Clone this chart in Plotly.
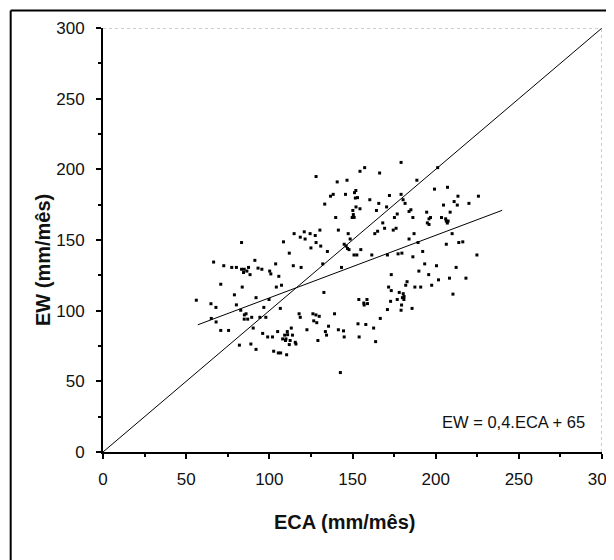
import plotly.graph_objects as go

# ECA vs EW, monthly values (mm/mês)
eca = [56.1, 66.5, 64.9, 67.9, 65.1, 68.0, 70.8, 70.8, 72.6, 75.5, 77.4, 79.0, 80.2, 80.2,
       82.0, 83.3, 83.3, 83.7, 82.8, 84.9, 86.0, 84.9, 87.5, 88.4, 88.9, 89.4, 90.3, 91.3,
       92.0, 92.0, 93.2, 94.3, 95.5, 96.0, 96.7, 97.9, 99.0, 99.8, 100.2, 100.9, 101.9, 102.6,
       103.8, 104.2, 105.0, 105.4, 105.7, 106.6, 106.8, 107.3, 108.5, 109.2, 109.7, 110.4,
       110.8, 112.0, 112.5, 113.2, 113.9, 114.4, 114.9, 115.6, 116.0, 117.9, 118.6, 119.1,
       118.6, 121.0, 121.5, 122.6, 124.5, 125.0, 126.2, 126.7, 127.6, 128.1, 128.1, 128.5,
       129.2, 130.4, 130.9, 132.1, 132.8, 133.3, 133.7, 134.4, 134.9, 135.6, 136.8, 138.4,
       139.2, 139.9, 140.8, 141.5, 141.5, 142.7, 143.4, 144.6, 145.0, 145.8, 146.2, 146.7,
       147.4, 147.9, 148.6, 149.8, 150.2, 150.9, 151.2, 151.7, 152.1, 152.6, 153.3, 153.8,
       154.0, 154.5, 154.5, 155.0, 156.8, 157.3, 158.0, 158.7, 160.4, 161.6, 162.7, 163.4,
       163.9, 164.4, 165.1, 165.8, 166.3, 166.7, 168.2, 169.3, 170.5, 171.0, 171.0, 171.7,
       172.2, 172.9, 173.3, 173.3, 174.5, 175.2, 176.2, 176.9, 176.9, 177.4, 178.1, 179.2,
       179.2, 179.7, 180.0, 179.2, 180.4, 180.9, 181.6, 182.8, 184.0, 184.0, 185.1, 185.8,
       186.3, 186.3, 187.0, 187.5, 188.7, 189.4, 189.9, 191.0, 192.2, 193.4, 194.6, 195.0,
       195.8, 196.9, 197.6, 199.3, 200.5, 201.2, 201.7, 203.5, 204.7, 206.4, 206.4, 207.1,
       207.5, 208.3, 208.7, 209.9, 210.4, 211.1, 212.3, 213.0, 213.4, 213.9, 216.3, 218.2,
       220.0, 224.8, 225.7,
       84.5, 86.5, 85.0, 87.0, 108.0, 110.0, 111.0, 112.0, 151.0, 150.5, 152.0, 153.0,
       179.5, 180.5, 181.0, 182.0, 206.0, 207.0, 128.0, 130.0, 145.0, 147.0, 157.0, 159.0,
       196.0, 196.0]
ew = [107.4, 134.4, 104.9, 102.3, 94.5, 92.0, 118.7, 86.0, 131.8, 86.0, 130.6, 111.2, 130.6, 104.1,
      75.6, 148.2, 129.3, 116.7, 100.3, 129.3, 97.8, 94.0, 130.6, 125.5, 76.4, 95.3, 87.7, 135.6,
      72.6, 109.2, 130.1, 95.3, 129.3, 83.9, 102.3, 95.3, 81.4, 107.9, 128.0, 126.0, 81.4, 71.3,
      133.1, 116.7, 85.2, 70.1, 124.3, 101.6, 70.1, 118.0, 148.7, 82.7, 78.9, 68.8,
      85.2, 140.7, 78.9, 87.7, 82.7, 131.8, 154.5, 77.6, 76.4, 97.8, 95.3, 130.6,
      152.0, 155.8, 150.7, 86.5, 154.5, 144.4, 97.8, 92.8, 153.2, 194.9, 148.2, 91.5,
      78.9, 157.0, 145.7, 133.1, 112.9, 175.4, 85.2, 82.7, 141.9, 89.0, 181.0, 182.3,
      97.8, 165.9, 191.1, 157.0, 86.5, 56.2, 130.6, 85.7, 81.4, 182.3, 145.7, 192.3,
      154.5, 143.2, 150.7, 165.9, 170.9, 139.4, 183.5, 179.7, 173.4, 139.4, 90.7, 107.9,
      81.4, 198.6, 172.1, 143.2, 105.4, 201.2, 90.2, 107.9, 178.5, 139.4, 87.7, 154.5,
      78.1, 170.9, 156.2, 175.9, 197.4, 94.5, 162.1, 158.3, 173.4, 139.4, 100.8, 116.7,
      181.5, 106.6, 125.5, 114.2, 157.0, 165.9, 158.3, 168.4, 107.9, 140.2, 112.9, 204.9,
      182.3, 140.7, 109.2, 100.3, 178.5, 107.9, 175.9, 120.5, 150.7, 170.2, 171.4, 101.6,
      138.1, 165.9, 154.5, 116.7, 192.3, 148.2, 128.0, 116.7, 141.9, 133.1, 169.7, 162.1,
      125.5, 165.9, 118.0, 186.0, 131.8, 201.2, 121.8, 165.9, 174.7, 163.4, 147.0, 187.3,
      163.4, 123.0, 169.7, 154.5, 111.7, 177.2, 130.6, 174.7, 181.0, 148.2, 148.7, 123.0,
      175.9, 139.4, 181.0,
      127.0, 128.0, 97.0, 94.0, 80.0, 80.0, 83.0, 76.0, 166.0, 168.0, 185.0, 180.0,
      104.0, 112.0, 110.0, 118.0, 165.0, 162.0, 97.0, 96.0, 147.0, 144.0, 104.0, 105.0,
      165.0, 161.0]

# 1:1 line and fitted line
one_x = [0, 300]
one_y = [0, 300]
fit_x = [57, 240]
fit_y = [90, 171]

eq_label = "EW = 0,4.ECA + 65"

fig = go.Figure()

fig.add_trace(go.Scatter(x=one_x, y=one_y, mode="lines",
                         line=dict(color="black", width=1), hoverinfo="skip"))
fig.add_trace(go.Scatter(x=fit_x, y=fit_y, mode="lines",
                         line=dict(color="black", width=1), hoverinfo="skip"))
fig.add_trace(go.Scatter(x=eca, y=ew, mode="markers",
                         marker=dict(symbol="square", size=3, color="black",
                                     line=dict(width=0))))

font_family = "Liberation Sans, Arial, sans-serif"
tickfont = dict(family=font_family, size=17, color="#111")
axis_common = dict(
    showgrid=False, zeroline=False,
    showline=True, linecolor="black", linewidth=2,
    ticks="outside", ticklen=5, tickwidth=1.5, tickcolor="black",
    minor=dict(ticks="outside", ticklen=3, tickwidth=1.5, tickcolor="black", dtick=25),
    tickfont=tickfont, dtick=50, range=[0, 300], automargin=False,
    ticklabeloverflow="allow",
)

# page body adds an 8px offset, so the figure is 8px smaller than the window
fig.update_layout(
    width=606, height=552,
    margin=dict(l=95, r=12, t=20, b=108),
    plot_bgcolor="white", paper_bgcolor="white",
    showlegend=False,
    xaxis=dict(axis_common, ticklabelstandoff=6),
    yaxis=dict(axis_common, ticklabelstandoff=8),
)

# dotted grey top/right frame of the plot area
fig.add_shape(type="line", xref="x", yref="y", x0=0, x1=300, y0=300, y1=300,
              line=dict(color="#999", width=1, dash="dot"))
fig.add_shape(type="line", xref="x", yref="y", x0=300, x1=300, y0=0, y1=300,
              line=dict(color="#999", width=1, dash="dot"))

# outer frame (only top and left edges fall inside the picture)
fig.add_shape(type="line", xref="paper", yref="paper", x0=-0.185, x1=1.1, y0=1.041, y1=1.041,
              line=dict(color="black", width=2))
fig.add_shape(type="line", xref="paper", yref="paper", x0=-0.185, x1=-0.185, y0=-0.3, y1=1.041,
              line=dict(color="black", width=2))

fig.add_annotation(x=291, y=21, xref="x", yref="y", text=eq_label, showarrow=False,
                   xanchor="right", yanchor="middle",
                   font=dict(family=font_family, size=16.5, color="#111"))

fig.add_annotation(x=0.485, y=-0.164, xref="paper", yref="paper", text="<b>ECA (mm/mês)</b>",
                   showarrow=False, xanchor="center", yanchor="middle",
                   font=dict(family=font_family, size=20, color="#111"))
fig.add_annotation(x=-0.12, y=0.453, xref="paper", yref="paper", text="<b>EW (mm/mês)</b>",
                   showarrow=False, textangle=-90, xanchor="center", yanchor="middle",
                   font=dict(family=font_family, size=20, color="#111"))

fig.write_html("out.html")
